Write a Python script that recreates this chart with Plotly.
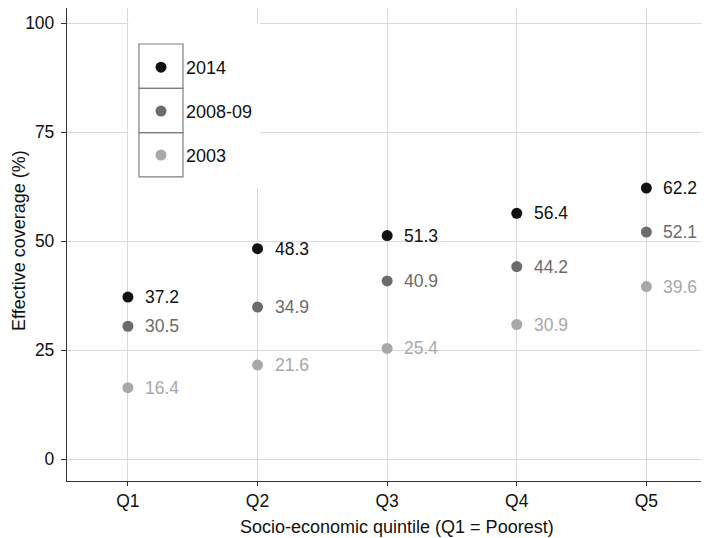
import plotly.graph_objects as go

quintiles = ["Q1", "Q2", "Q3", "Q4", "Q5"]
years = ["2014", "2008-09", "2003"]
cov_2014 = [37.2, 48.3, 51.3, 56.4, 62.2]
cov_2008 = [30.5, 34.9, 40.9, 44.2, 52.1]
cov_2003 = [16.4, 21.6, 25.4, 30.9, 39.6]
series = [cov_2014, cov_2008, cov_2003]
colors = ["#111111", "#6b6b6b", "#a8a8a8"]
yticks = [0, 25, 50, 75, 100]
x_title = "Socio-economic quintile (Q1 = Poorest)"
y_title = "Effective coverage (%)"

# the page body has an 8px margin, so the figure is drawn 8px smaller
OFF = 8
W, H = 709 - OFF, 538 - OFF
L, R, T, B = 67 - OFF, 3, 0, 57
PW, PH = W - L - R, H - T - B
FONT = "Liberation Sans, Arial, Helvetica, sans-serif"


def px_x(p):  # p: page pixel
    return (p - OFF - L) / PW


def px_y(p):
    return 1 - (p - OFF - T) / PH


fig = go.Figure()
for i, (name, vals, col) in enumerate(zip(years, series, colors)):
    fig.add_trace(go.Scatter(
        x=quintiles, y=vals, mode="markers", name=name,
        legendgroup=name,
        marker=dict(color=col, size=11, line=dict(width=0)),
    ))
    for q, v in zip(quintiles, vals):
        fig.add_annotation(x=q, y=v, text=f"{v:.1f}", showarrow=False,
                           xanchor="left", yanchor="middle", xshift=15,
                           font=dict(size=17.5, color=col))

# axis titles
fig.add_annotation(xref="paper", yref="paper", x=px_x(397), y=px_y(527),
                   text=x_title, showarrow=False, xanchor="center", yanchor="middle",
                   font=dict(size=18, color="#111111"))
fig.add_annotation(xref="paper", yref="paper", x=px_x(8), y=px_y(241),
                   text=y_title, showarrow=False, textangle=-90,
                   xanchor="left", yanchor="middle", borderpad=0,
                   font=dict(size=18, color="#111111"))

shapes = []
# white legend background
shapes.append(dict(type="rect", xref="paper", yref="paper",
                   x0=px_x(128.5), x1=px_x(260), y0=px_y(188), y1=px_y(23),
                   fillcolor="white", line=dict(width=0), layer="above"))
# legend key boxes
for k in range(3):
    top = 44 + k * 44.3
    shapes.append(dict(type="rect", xref="paper", yref="paper",
                       x0=px_x(139), x1=px_x(183), y0=px_y(top + 44.3), y1=px_y(top),
                       fillcolor="rgba(0,0,0,0)", line=dict(width=1.2, color="#7f7f7f"),
                       layer="above"))
# right panel border
shapes.append(dict(type="line", xref="paper", yref="paper", x0=1, x1=1, y0=0, y1=1,
                   line=dict(color="#a0a0a0", width=1)))

fig.update_layout(
    width=W, height=H,
    margin=dict(l=L, r=R, t=T, b=B),
    paper_bgcolor="white", plot_bgcolor="white",
    font=dict(family=FONT, size=17.5, color="#111111"),
    shapes=shapes,
    showlegend=True,
    legend=dict(x=px_x(136), y=px_y(49), xanchor="left", yanchor="top",
                bgcolor="rgba(0,0,0,0)", borderwidth=0,
                font=dict(size=18, color="#111111"),
                itemwidth=40,
                traceorder="grouped", tracegroupgap=17.5),
    xaxis=dict(range=[-0.47, 4.46], showgrid=True, gridcolor="#d9d9d9", gridwidth=1,
               showline=True, linecolor="#333333", linewidth=1.3,
               ticks="outside", ticklen=4, tickcolor="#333333",
               tickfont=dict(size=17.5, color="#111111"),
               zeroline=False, fixedrange=True, automargin=False),
    yaxis=dict(range=[-5, 103.5], tickvals=yticks, showgrid=True, gridcolor="#d9d9d9",
               gridwidth=1, showline=True, linecolor="#333333", linewidth=1.3,
               ticks="outside", ticklen=5, tickcolor="#333333",
               ticklabelstandoff=3,
               tickfont=dict(size=17.5, color="#111111"),
               zeroline=False, fixedrange=True, automargin=False),
)

fig.write_html("out.html")
